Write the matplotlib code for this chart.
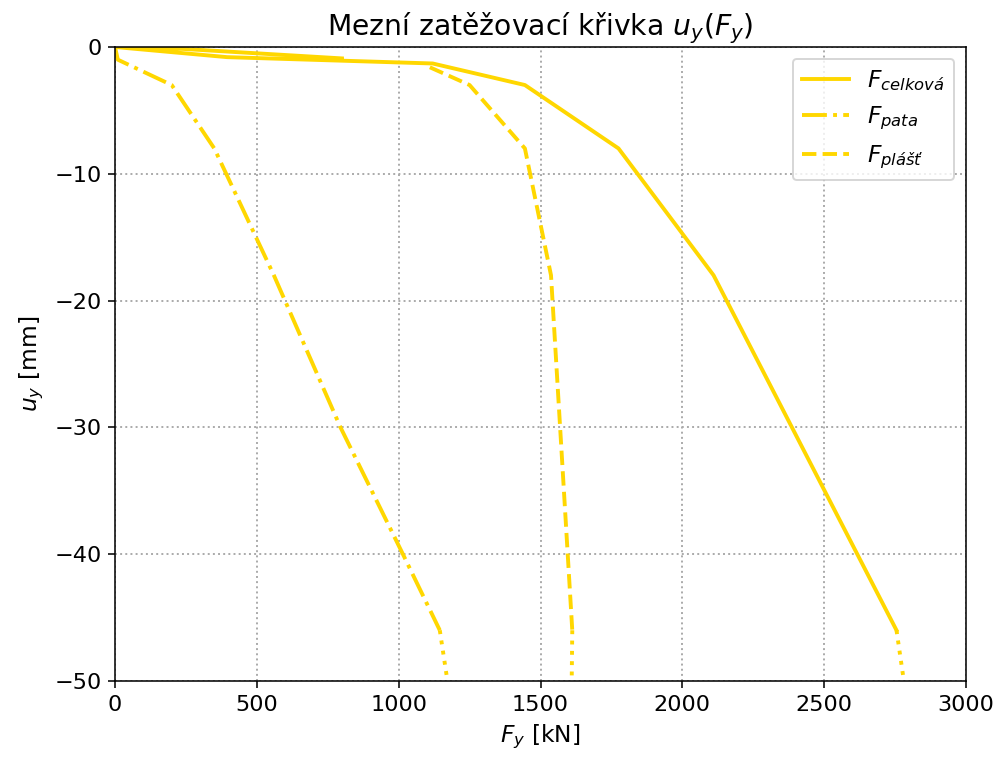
import matplotlib
matplotlib.use("Agg")
import matplotlib.pyplot as plt

# hodnoty: F [kN], u [mm]
F_celkova = [800, 240, 0, 395, 1120, 1445, 1775, 2110, 2755]
u_celkova = [-0.9, -0.15, 0, -0.8, -1.3, -3, -8, -18, -46]
F_celkova_konec = [2755, 2781]
u_celkova_konec = [-46, -50]

F_pata = [0, 10, 200, 350, 560, 795, 1015, 1145]
u_pata = [0, -1, -3, -8, -18, -30, -40, -46]
F_pata_konec = [1145, 1172]
u_pata_konec = [-46, -50]

F_plast = [1110, 1250, 1445, 1537, 1612]
u_plast = [-1.6, -3, -8, -18, -46]
F_plast_konec = [1612, 1610]
u_plast_konec = [-46, -50]

barva = "#FFD700"
dpi = 140
fig, ax = plt.subplots(figsize=(1000 / dpi, 761 / dpi), dpi=dpi)
fig.subplots_adjust(left=0.115, right=0.966, top=1 - 47 / 761, bottom=1 - 681 / 761)

ax.plot(F_celkova, u_celkova, color=barva, lw=2, ls="-", label="$F_{celková}$")
ax.plot(F_pata, u_pata, color=barva, lw=2, ls="-.", label="$F_{pata}$")
ax.plot(F_plast, u_plast, color=barva, lw=2, ls="--", label="$F_{plášť}$")
ax.plot(F_celkova_konec, u_celkova_konec, color=barva, lw=2, ls=":")
ax.plot(F_pata_konec, u_pata_konec, color=barva, lw=2, ls=":")
ax.plot(F_plast_konec, u_plast_konec, color=barva, lw=2, ls=":")

ax.set_xlim(0, 3000)
ax.set_ylim(-50, 0)
ax.grid(True, ls=":", color="#aaaaaa", lw=1)
ax.set_title("Mezní zatěžovací křivka $u_y(F_y)$", fontsize=14.5)
ax.set_xlabel("$F_y$ [kN]", fontsize=12)
ax.set_ylabel("$u_y$ [mm]", fontsize=12)
ax.tick_params(labelsize=11.5)
ax.legend(loc="upper right", fontsize=12)

fig.savefig("out.png", dpi=dpi)
